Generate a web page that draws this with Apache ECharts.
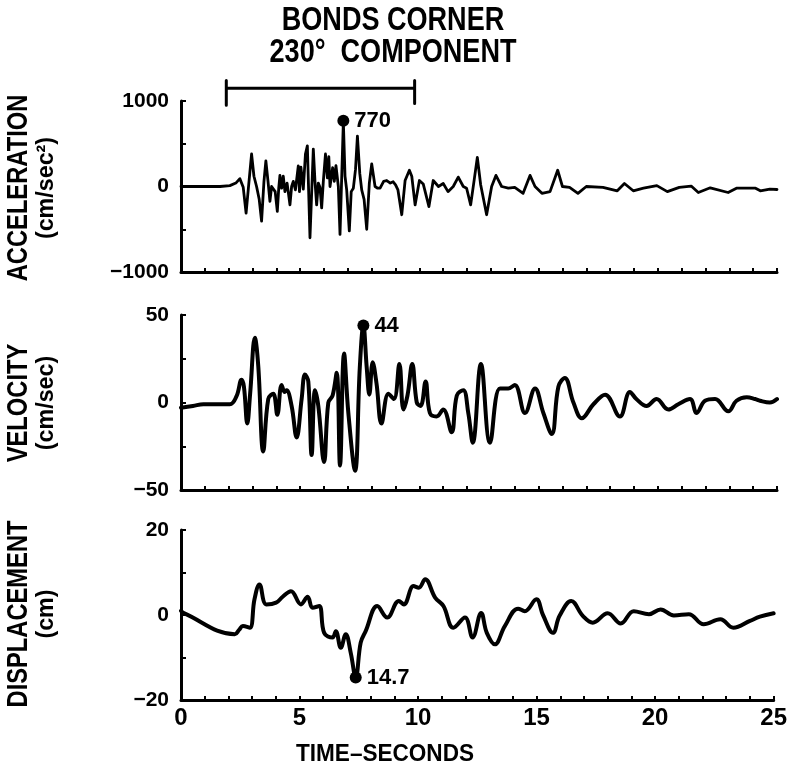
<!DOCTYPE html>
<html><head><meta charset="utf-8">
<script src="https://cdn.jsdelivr.net/npm/echarts@6/dist/echarts.min.js"></script>
<style>html,body{margin:0;padding:0;background:#fff}#c{width:790px;height:762px}</style>
</head><body><div id="c"></div>
<script>
// ---------- DATA ----------
const accTime = [0,1.0,1.64,2.05,2.3,2.47,2.61,2.73,2.85,2.96,3.06,3.17,3.28,3.38,3.48,3.56,3.65,3.73,3.8,3.87,3.95,4.04,4.1,4.15,4.22,4.29,4.36,4.45,4.57,4.64,4.71,4.8,4.92,4.97,5.03,5.13,5.22,5.3,5.41,5.55,5.62,5.69,5.76,5.83,5.9,5.97,6.06,6.14,6.2,6.25,6.36,6.43,6.5,6.6,6.67,6.74,6.81,6.88,6.95,7.06,7.14,7.23,7.32,7.4,7.5,7.58,7.68,7.79,7.9,8.0,8.14,8.25,8.35,8.5,8.63,8.78,8.9,9.0,9.1,9.26,9.4,9.58,9.68,9.82,10.0,10.16,10.4,10.58,10.8,11.0,11.2,11.42,11.63,11.84,11.98,12.15,12.3,12.43,12.57,12.82,13.03,13.21,13.45,13.73,14.0,14.35,14.64,14.85,15.14,15.48,15.8,16.0,16.3,16.65,17.0,17.7,18.3,18.6,18.97,19.4,19.96,20.4,20.9,21.4,21.7,22.2,22.95,23.3,23.7,24.1,24.3,24.7,25.0];
const accValues = [0,0,0,10,40,92,-10,-310,50,380,120,0,-150,-405,60,300,60,-175,0,0,-60,-290,-20,130,-20,120,-60,40,-215,0,60,-40,240,-60,225,-30,380,475,-600,437,60,-215,40,-10,-250,60,380,100,350,0,220,60,245,0,-560,100,760,120,-40,-520,-60,-20,200,590,150,-40,-150,-500,40,265,0,-20,-20,60,70,40,55,20,-40,-330,70,190,120,-215,70,30,-235,70,0,35,-60,0,110,0,-20,-215,80,340,20,-330,0,130,0,-20,-10,-80,130,0,-80,-60,190,0,-10,-80,0,-10,-50,35,-50,-20,10,-60,-10,5,-70,-15,-70,-20,-20,-20,-50,-30,-35];

const velTime = [0,0.5,0.94,2.05,2.33,2.54,2.64,2.78,2.9,3.1,3.24,3.45,3.66,3.87,4.04,4.22,4.35,4.43,4.64,4.85,5.06,5.2,5.34,5.48,5.62,5.76,6.0,6.18,6.36,6.53,6.67,6.84,7.02,7.3,7.5,7.65,7.79,7.9,8.04,8.2,8.41,8.7,8.93,9.16,9.33,9.5,9.7,9.89,10.05,10.26,10.44,10.72,11.0,11.35,11.57,11.84,12.05,12.24,12.58,12.96,13.38,13.73,14.0,14.43,14.85,15.2,15.55,15.83,16.1,16.46,16.81,17.3,17.79,18.41,18.83,19.1,19.53,19.95,20.44,20.86,21.35,21.63,21.98,22.4,22.96,23.3,23.73,24.08,24.29,24.7,25.0];
const velValues = [-3,-2,-1,-1,3.6,13,9,-12,5,37,21,-28,2,5,-7,10,6,7,-2,-20,2,16,12,-30,7,-2,-34,0,4,17,-36,28,-6,-39,20,44,20,4.5,23,11,-12,5,2,22,-4,4,22,0,-2,12,-6,-8,-4,-17,4,7,-6,-23,22,-23,8,8,10,-6,8,-6,-18,9,14,0,-9,-1,4.5,-8,6,2,-2,2,-4,-1,2,-6,1,2,-5,1,3,2,1,0,2];

const dispTime = [0,0.1,2.27,2.45,2.61,2.9,3.1,3.31,3.6,4.01,4.29,4.64,5.06,5.34,5.55,5.83,6.04,6.39,6.53,6.74,6.95,7.16,7.37,7.58,7.79,8.28,8.7,9.19,9.4,9.81,10.03,10.3,10.72,11.07,11.49,11.98,12.3,12.66,12.9,13.24,13.66,14.22,14.5,14.99,15.27,15.69,15.97,16.46,16.95,17.37,18.0,18.55,19.1,19.74,20.23,20.79,21.42,22.05,22.75,23.3,24.0,24.42,25.0];
const dispValues = [1,0.5,-4.5,-3.5,-2.6,-3,3.7,7.2,2.5,2.9,4.3,5.6,2.5,4.3,1.7,2.1,-4.2,-5.3,-3.8,-7.7,-4.5,-8.9,-14.7,-6.5,-3.8,2.1,-0.6,3.3,2.5,6.8,6.4,8.4,4.1,2.1,-3,-0.6,-5.3,0.5,-4.2,-6.9,-2.6,1.5,0.9,3.7,0,-4.2,-0.2,3.3,-0.2,-1.8,0.4,-2,0.9,0.2,1.3,-0.1,0.2,-2.2,-1,-3,-1.4,-0.4,0.4];

const peakAcc = [6.81, 770];
const peakVel = [7.65, 44];
const peakDisp = [7.37, -14.7];
const peakLabels = ['770', '44', '14.7'];

const bracketTime = [1.9, 1.9, 1.9, 9.8, 9.8, 9.8];
const bracketValues = [1240, 950, 1150, 1150, 1240, 970];

const xTicks = [0, 5, 10, 15, 20, 25];
const yRanges = [[-1000, 1000, 500], [-50, 50, 25], [-20, 20, 10]];
const yNames = ['ACCELERATION', 'VELOCITY', 'DISPLACEMENT'];
const yUnits = ['(cm/sec²)', '(cm/sec)', '(cm)'];
const titleLines = ['BONDS CORNER', '230°  COMPONENT'];
const xTitle = 'TIME–SECONDS';

// ---------- CHART ----------
const FONT = "'Liberation Sans', Arial, sans-serif";
const zip = (a, b) => a.map((v, i) => [v, b[i]]);
const chart = echarts.init(document.getElementById('c'), null, {renderer: 'canvas'});

const grids = [
  {left: 181, top: 101, width: 596, height: 171},
  {left: 181, top: 315, width: 596, height: 175},
  {left: 181, top: 530, width: 596, height: 170}
];
const axisLine = {show: true, onZero: false, lineStyle: {color: '#000', width: 3}};

const xAxis = grids.map((g, i) => ({
  type: 'value', gridIndex: i, min: 0, max: 25, interval: 1,
  axisLine: axisLine,
  axisTick: {show: true, inside: true, length: 4, lineStyle: {color: '#000', width: 2}},
  splitLine: {show: false},
  axisLabel: {
    show: i === 2, color: '#000', fontFamily: FONT, fontWeight: 'bold', fontSize: 24, margin: 6,
    formatter: v => xTicks.indexOf(v) >= 0 ? String(v) : ''
  }
}));
const yAxis = grids.map((g, i) => ({
  type: 'value', gridIndex: i, min: yRanges[i][0], max: yRanges[i][1], interval: yRanges[i][2],
  axisLine: axisLine,
  axisTick: {show: true, inside: true, length: 5, lineStyle: {color: '#000', width: 2}},
  splitLine: {show: false},
  axisLabel: {
    color: '#000', fontFamily: FONT, fontWeight: 'bold', fontSize: 21, margin: 12,
    formatter: v => (v === yRanges[i][0] || v === 0 || v === yRanges[i][1]) ? (v < 0 ? '−' + (-v) : String(v)) : ''
  }
}));

const lineSeries = (data, idx, width, smooth) => ({
  type: 'line', xAxisIndex: idx, yAxisIndex: idx, data: data, showSymbol: false, symbol: 'none',
  smooth: smooth, lineStyle: {color: '#000', width: width, join: 'round', cap: 'round'}, animation: false, z: 3
});
const peakSeries = (pt, idx, label) => ({
  type: 'scatter', xAxisIndex: idx, yAxisIndex: idx, data: [pt], symbol: 'circle', symbolSize: 12,
  itemStyle: {color: '#000', opacity: 1}, animation: false, z: 5,
  label: {show: true, position: 'right', distance: 5, formatter: label, color: '#000',
    fontFamily: FONT, fontWeight: 'bold', fontSize: 22}
});

const graphics = [];
titleLines.forEach((t, i) => graphics.push({
  type: 'text', x: 393, y: 21 + i * 32, scaleX: 0.82,
  style: {text: t, align: 'center', verticalAlign: 'middle', fill: '#000', font: 'bold 33px ' + FONT}
}));
const centers = [188, 403, 614];
yNames.forEach((t, i) => {
  graphics.push({type: 'text', x: 19, y: centers[i], rotation: Math.PI / 2, scaleX: 0.79,
    style: {text: t, align: 'center', verticalAlign: 'middle', fill: '#000', font: 'bold 30px ' + FONT}});
  graphics.push({type: 'text', x: 46, y: centers[i], rotation: Math.PI / 2, scaleX: 0.97,
    style: {text: yUnits[i], align: 'center', verticalAlign: 'middle', fill: '#000', font: 'bold 24px ' + FONT}});
});
graphics.push({type: 'text', x: 385, y: 754, scaleX: 0.94,
  style: {text: xTitle, align: 'center', verticalAlign: 'middle', fill: '#000', font: 'bold 24px ' + FONT}});

chart.setOption({
  backgroundColor: '#fff',
  animation: false,
  grid: grids,
  xAxis: xAxis,
  yAxis: yAxis,
  graphic: graphics,
  series: [
    lineSeries(zip(accTime, accValues), 0, 2.8, false),
    Object.assign(lineSeries(zip(bracketTime, bracketValues), 0, 3, false), {clip: false}),
    peakSeries(peakAcc, 0, peakLabels[0]),
    lineSeries(zip(velTime, velValues), 1, 4, 0.4),
    peakSeries(peakVel, 1, peakLabels[1]),
    lineSeries(zip(dispTime, dispValues), 2, 4, 0.4),
    peakSeries(peakDisp, 2, peakLabels[2])
  ]
});
</script></body></html>
